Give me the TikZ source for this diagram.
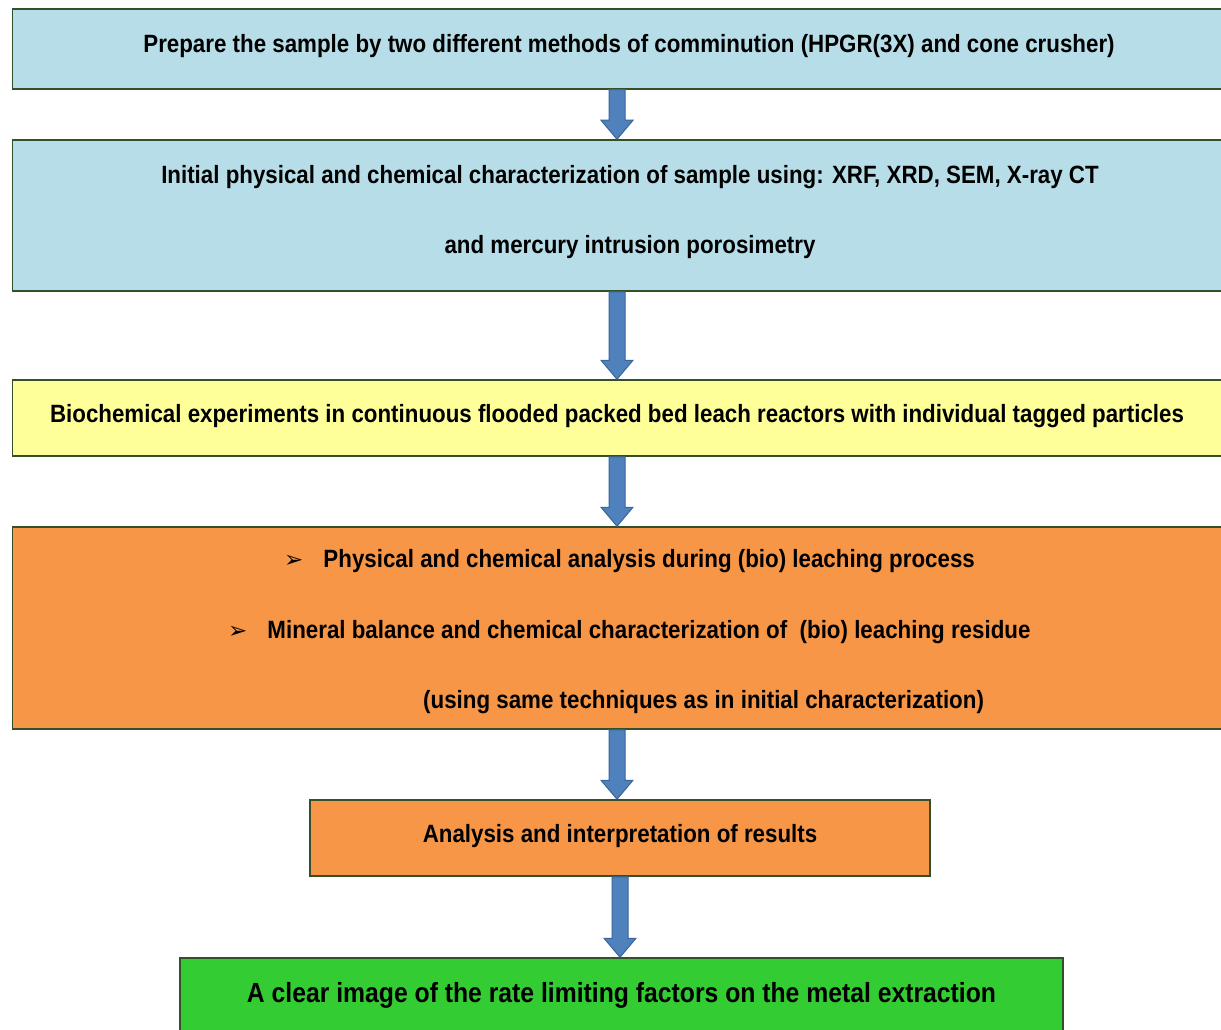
\documentclass[tikz,border=0pt]{standalone}
\usepackage{fontspec}
\setmainfont{Liberation Sans}[FakeStretch=0.893]
\newfontfamily\dingfont{DejaVu Sans}
\usetikzlibrary{positioning,calc}
\definecolor{boxblue}{HTML}{B7DEE8}
\definecolor{boxyellow}{HTML}{FFFF99}
\definecolor{boxorange}{HTML}{F79646}
\definecolor{boxgreen}{HTML}{33CC33}
\definecolor{boxline}{HTML}{34502A}
\definecolor{arrowblue}{HTML}{4F81BD}
\definecolor{arrowline}{HTML}{3A659A}
\tikzstyle{procbox}=[draw=boxline,line width=1.5pt,rectangle,inner sep=0pt,text height=19pt,text depth=11pt,font=\bfseries\fontsize{25}{30}\selectfont]
\tikzstyle{itemline}=[inner sep=0pt,anchor=west,font=\bfseries\fontsize{25}{30}\selectfont]
\tikzstyle{flow}=[fill=arrowblue,draw=arrowline,line width=1pt,line join=miter]
\newcommand{\flowarrow}[2]{%
  \coordinate (tip) at (#1.south |- #2.north);
  \draw[flow] ([shift={(-8,0)}]#1.south) -- ([shift={(-8,-19)}]tip)
    -- ([shift={(-16,-19)}]tip) -- (tip) -- ([shift={(16,-19)}]tip)
    -- ([shift={(8,-19)}]tip) -- ([shift={(8,0)}]#1.south) -- cycle;}
\newcommand{\tick}{{\dingfont\fontsize{23}{26}\selectfont\char"27A2}\hspace{20pt}}

\begin{document}
\begin{tikzpicture}[x=1pt,y=-1pt]
    \useasboundingbox (0,0) rectangle (1221,1030);
    % process boxes
    \node [procbox,fill=boxblue,minimum width=1209pt,minimum height=80pt] (prepare) at (617,49)
      {\hspace*{24pt}Prepare the sample by two different methods of comminution (HPGR(3X) and cone crusher)};
    \node [procbox,fill=boxblue,minimum width=1209pt,minimum height=151pt,align=center,text height=,text depth=12pt] (initial) at (617,215.5)
      {\hspace*{26pt}Initial physical and chemical characterization of sample using: XRF, XRD, SEM, X-ray CT\\[40pt]
       \hspace*{26pt}and mercury intrusion porosimetry};
    \node [procbox,fill=boxyellow,minimum width=1209pt,minimum height=76pt] (biochem) at (617,418)
      {Biochemical experiments in continuous flooded packed bed leach reactors with individual tagged particles};
    \node [procbox,fill=boxorange,minimum width=1209pt,minimum height=202pt] (leaching) at (617,628) {};
    \node [itemline] (physical) at (284,561) {\tick Physical and chemical analysis during (bio) leaching process};
    \node [itemline] (mineral) at (228,632) {\tick Mineral balance and chemical characterization of\ \ (bio) leaching residue};
    \node [itemline] (techniques) at (423,702) {(using same techniques as in initial characterization)};
    \node [procbox,fill=boxorange,minimum width=620pt,minimum height=76pt] (results) at (620,838)
      {Analysis and interpretation of results};
    \node [procbox,fill=boxgreen,minimum width=883pt,minimum height=80pt,font=\bfseries\fontsize{27.7}{33}\selectfont] (image) at (621.5,998)
      {A clear image of the rate limiting factors on the metal extraction};
    % arrows
    \flowarrow{prepare}{initial}
    \flowarrow{initial}{biochem}
    \flowarrow{biochem}{leaching}
    \flowarrow{leaching}{results}
    \flowarrow{results}{image}
\end{tikzpicture}
\end{document}
